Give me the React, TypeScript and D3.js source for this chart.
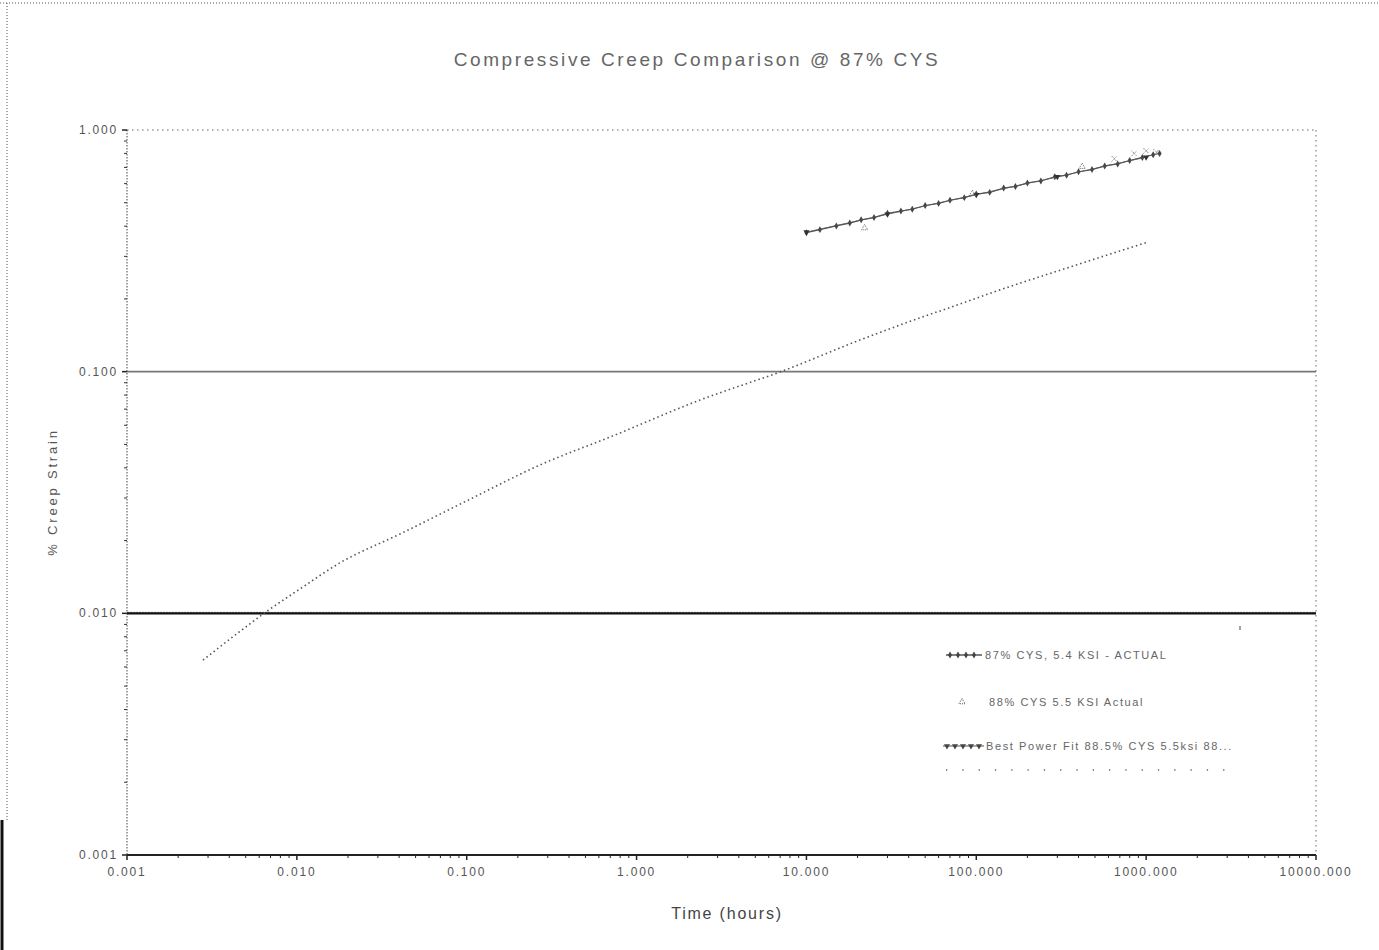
import React from 'react';
import * as d3 from 'd3';

const width = 1379;
const height = 950;

const title = 'Compressive Creep Comparison @ 87% CYS';
const xTitle = 'Time (hours)';
const yTitle = '% Creep Strain';

const xTicks = [0.001, 0.01, 0.1, 1, 10, 100, 1000, 10000];
const xTickLabels = ['0.001', '0.010', '0.100', '1.000', '10.000', '100.000', '1000.000', '10000.000'];
const yTicks = [0.001, 0.01, 0.1, 1];
const yTickLabels = ['0.001', '0.010', '0.100', '1.000'];

// 87% CYS actual test data
const actualTime = [10, 12, 15, 18, 21, 25, 30, 36, 42, 50, 60, 70, 85, 100, 120, 145, 170, 200, 240, 290, 340, 400, 480, 570, 680, 800, 950, 1100, 1200];
const actualStrain = [0.376, 0.387, 0.401, 0.412, 0.425, 0.434, 0.452, 0.462, 0.470, 0.487, 0.497, 0.512, 0.525, 0.543, 0.552, 0.575, 0.584, 0.604, 0.615, 0.640, 0.650, 0.672, 0.686, 0.710, 0.724, 0.748, 0.770, 0.790, 0.800];

// second test, markers only
const secondTime = [22, 95, 420, 650, 850, 1000, 1150];
const secondStrain = [0.393, 0.545, 0.705, 0.76, 0.80, 0.82, 0.81];

// power fit
const fitTime = [10, 30, 100, 300, 1000];
const fitStrain = [0.378, 0.448, 0.540, 0.640, 0.772];

// lower dotted curve
const lowTime = [0.0028, 0.0045, 0.0068, 0.0104, 0.018, 0.0405, 0.1, 0.27, 0.7, 2.36, 7.5, 20, 35.6, 80, 138, 350, 1026];
const lowStrain = [0.0064, 0.0083, 0.0103, 0.0126, 0.0162, 0.0213, 0.0292, 0.0411, 0.0537, 0.0763, 0.1016, 0.134, 0.156, 0.1905, 0.218, 0.270, 0.344];

const legendLabels = ['87% CYS, 5.4 KSI - ACTUAL', '88% CYS 5.5 KSI Actual', 'Best Power Fit 88.5% CYS 5.5ksi 88...'];

const left = 127, right = 1316, top = 130, bottom = 855;
const x = d3.scaleLog().domain([0.001, 10000]).range([left, right]);
const y = d3.scaleLog().domain([0.001, 1]).range([bottom, top]);

const line = d3.line<[number, number]>().x(d => x(d[0])).y(d => y(d[1]));
const zip = (a: number[], b: number[]) => a.map((t, i) => [t, b[i]] as [number, number]);

const font = 'Liberation Sans, Arial, sans-serif';
const diamond = d3.symbol().type(d3.symbolDiamond).size(14)();
const tri = d3.symbol().type(d3.symbolTriangle).size(16)();
const cross = d3.symbol().type(d3.symbolX).size(22)();

const minorX: number[] = [];
const minorY: number[] = [];
for (let e = -3; e < 4; e++) for (let k = 2; k < 10; k++) minorX.push(k * Math.pow(10, e));
for (let e = -3; e < 0; e++) for (let k = 2; k < 10; k++) minorY.push(k * Math.pow(10, e));

const App = () => (
  <svg width={width} height={height} style={{ position: 'absolute', left: 0, top: 0, background: '#fff' }}>
    {/* figure border */}
    <line x1={0} x2={width} y1={3} y2={3} stroke="#555" strokeDasharray="1 2" />
    <line x1={7} x2={7} y1={3} y2={820} stroke="#555" strokeDasharray="1 2" />
    <line x1={2} x2={2} y1={820} y2={height} stroke="#111" strokeWidth={3} />

    <text x={697} y={66} textAnchor="middle" fontFamily={font} fontSize={19} letterSpacing={2.6} fill="#666">{title}</text>

    {/* frame */}
    <line x1={left} x2={right} y1={top} y2={top} stroke="#666" strokeDasharray="1.5 3.5" />
    <line x1={right} x2={right} y1={top} y2={bottom} stroke="#666" strokeDasharray="1.5 3.5" />
    <line x1={left} x2={left} y1={top} y2={bottom} stroke="#444" strokeDasharray="1.5 1.5" />

    {/* grid */}
    <line x1={left} x2={right} y1={y(0.1)} y2={y(0.1)} stroke="#777" strokeWidth={1.8} />
    <line x1={left} x2={right} y1={y(0.01) - 1} y2={y(0.01) - 1} stroke="#999" strokeWidth={1} strokeDasharray="2 1" />
    <line x1={left} x2={right} y1={y(0.01)} y2={y(0.01)} stroke="#111" strokeWidth={2.2} />

    {/* x axis */}
    <line x1={left} x2={right} y1={bottom} y2={bottom} stroke="#222" strokeWidth={2} />
    {minorX.map((t, i) => (
      <line key={'mx' + i} x1={x(t)} x2={x(t)} y1={bottom} y2={bottom + 3} stroke="#222" />
    ))}
    {xTicks.map((t, i) => (
      <g key={'xt' + i}>
        <line x1={x(t)} x2={x(t)} y1={bottom} y2={bottom + 5} stroke="#222" strokeWidth={1.5} />
        <text x={x(t)} y={bottom + 21} textAnchor="middle" fontFamily={font} fontSize={12} letterSpacing={1.8} fill="#555">{xTickLabels[i]}</text>
      </g>
    ))}
    <text x={727} y={919} textAnchor="middle" fontFamily={font} fontSize={16} letterSpacing={1.8} fill="#444">{xTitle}</text>

    {/* y axis */}
    {minorY.map((v, i) => (
      <line key={'my' + i} x1={left - 3} x2={left} y1={y(v)} y2={y(v)} stroke="#333" />
    ))}
    {yTicks.map((v, i) => (
      <g key={'yt' + i}>
        <line x1={left - 5} x2={left} y1={y(v)} y2={y(v)} stroke="#222" strokeWidth={1.5} />
        <text x={left - 9} y={y(v) + 4} textAnchor="end" fontFamily={font} fontSize={12} letterSpacing={1.8} fill="#555">{yTickLabels[i]}</text>
      </g>
    ))}
    <text transform="translate(57,492) rotate(-90)" textAnchor="middle" fontFamily={font} fontSize={13} letterSpacing={2.8} fill="#555">{yTitle}</text>

    {/* lower dotted curve */}
    <path d={line.curve(d3.curveMonotoneX)(zip(lowTime, lowStrain)) || ''} fill="none" stroke="#555" strokeWidth={1.6} strokeDasharray="1.5 3" />

    {/* actual data */}
    <path d={line.curve(d3.curveLinear)(zip(actualTime, actualStrain)) || ''} fill="none" stroke="#555" strokeWidth={1.2} />
    {actualTime.map((t, i) => (
      <path key={'a' + i} d={diamond || ''} transform={`translate(${x(t)},${y(actualStrain[i])})`} fill="#444" />
    ))}
    <path d={line(zip(fitTime, fitStrain)) || ''} fill="none" stroke="#555" strokeWidth={0.8} />
    {fitTime.map((t, i) => (
      <path key={'f' + i} d={tri || ''} transform={`translate(${x(t)},${y(fitStrain[i])}) rotate(180)`} fill="#333" />
    ))}
    {secondTime.map((t, i) => (
      <path key={'s' + i} d={(i > 2 ? cross : tri) || ''} transform={`translate(${x(t)},${y(secondStrain[i])})`} fill="none" stroke="#666" strokeDasharray="1 1" />
    ))}

    {/* legend */}
    <line x1={1240} x2={1240} y1={626} y2={630} stroke="#444" />
    <g fontFamily={font} fontSize={11} letterSpacing={1.6} fill="#666">
      <line x1={946} x2={982} y1={655} y2={655} stroke="#555" strokeWidth={1.3} />
      {[950, 958, 966, 974].map(cx => (
        <path key={'ld' + cx} d={diamond || ''} transform={`translate(${cx},655)`} fill="#444" />
      ))}
      <text x={985} y={659}>{legendLabels[0]}</text>
      <path d={tri || ''} transform="translate(962,702)" fill="none" stroke="#555" strokeDasharray="1 1" />
      <text x={989} y={706}>{legendLabels[1]}</text>
      <line x1={943} x2={984} y1={746} y2={746} stroke="#555" strokeWidth={1} />
      {[947, 955, 963, 971, 979].map(cx => (
        <path key={'lt' + cx} d={tri || ''} transform={`translate(${cx},746) rotate(180)`} fill="#444" />
      ))}
      <text x={986} y={750}>{legendLabels[2]}</text>
      <line x1={946} x2={1238} y1={770} y2={770} stroke="#666" strokeWidth={1.3} strokeDasharray="1.3 15" />
    </g>
  </svg>
);

export default App;
